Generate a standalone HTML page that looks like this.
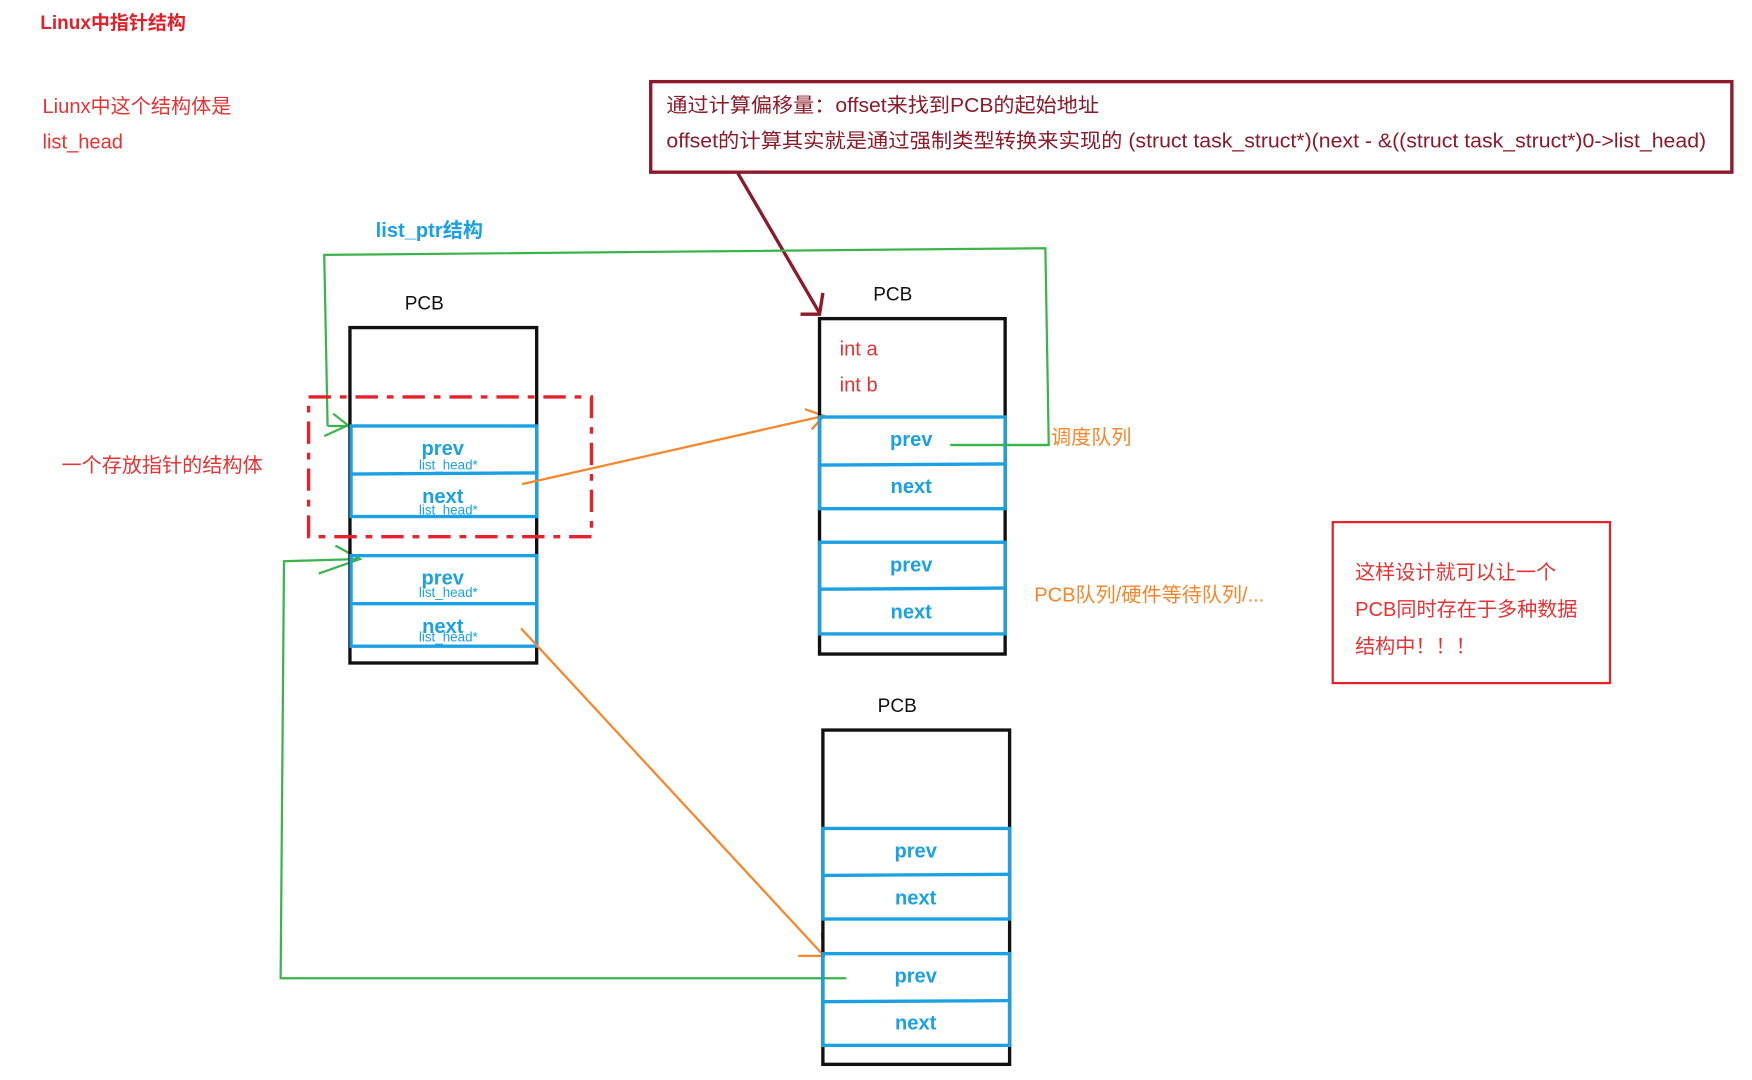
<!DOCTYPE html>
<html><head><meta charset="utf-8"><style>
html,body{margin:0;padding:0;background:#fff;width:1752px;height:1080px;overflow:hidden}
svg{display:block}
text{font-family:"Liberation Sans","Noto Sans CJK SC",sans-serif}
</style></head><body>
<svg width="1752" height="1080" viewBox="0 0 1567 966" preserveAspectRatio="none">
<text x="36" y="26" font-size="17" font-weight="bold" fill="#e0202a">Linux中指针结构</text>
<text x="38" y="101" font-size="18" fill="#e53333">Liunx中这个结构体是</text>
<text x="38" y="133" font-size="18" fill="#e53333">list_head</text>
<rect x="582" y="73" width="967" height="81" fill="none" stroke="#8b1a2a" stroke-width="3"/>
<text x="596" y="100" font-size="18" fill="#8b1a2a" textLength="387" lengthAdjust="spacingAndGlyphs">通过计算偏移量：offset来找到PCB的起始地址</text>
<text x="596" y="132" font-size="18" fill="#8b1a2a" textLength="930" lengthAdjust="spacingAndGlyphs">offset的计算其实就是通过强制类型转换来实现的 (struct task_struct*)(next - &amp;((struct task_struct*)0-&gt;list_head)</text>
<path d="M660 155 L733 280 M716 281 L733 281 L736 262" fill="none" stroke="#8b1a2a" stroke-width="3"/>
<text x="336" y="212" font-size="18" font-weight="bold" fill="#1ba1e2">list_ptr结构</text>
<path d="M293 381 L290 228 L935 222 L938 398 L850 398" fill="none" stroke="#3cb44b" stroke-width="2"/>
<path d="M293 381 L313 381 M298 370 L312 381 M290 390 L312 380" fill="none" stroke="#3cb44b" stroke-width="2"/>
<path d="M757 875 L251 875 L254 502 L322 500 M300 488 L322 500 L285 513" fill="none" stroke="#3cb44b" stroke-width="2"/>
<text x="362" y="277" font-size="17" fill="#111">PCB</text>
<rect x="313" y="293" width="167" height="300" fill="none" stroke="#111" stroke-width="3"/>
<g fill="none" stroke="#1ba1e2" stroke-width="3">
<rect x="314" y="381" width="166" height="81"/><line x1="314" y1="424" x2="480" y2="423"/>
<rect x="314" y="497" width="166" height="81"/><line x1="314" y1="540" x2="480" y2="540"/>
</g>
<g font-weight="bold" font-size="18" fill="#1ba1e2" text-anchor="middle">
<text x="396" y="407">prev</text><text x="396" y="450">next</text>
<text x="396" y="523">prev</text><text x="396" y="566">next</text>
</g>
<g font-size="12" fill="#1ba1e2" text-anchor="middle">
<text x="401" y="420">list_head*</text><text x="401" y="460">list_head*</text>
<text x="401" y="534">list_head*</text><text x="401" y="574">list_head*</text>
</g>
<rect x="276" y="355" width="253" height="125" fill="none" stroke="#e8202a" stroke-width="3" stroke-dasharray="20,8,6,8"/>
<text x="55" y="422" font-size="18" fill="#e53333">一个存放指针的结构体</text>
<path d="M467 433 L737 372 M720 366 L737 372 L726 384" fill="none" stroke="#f7852a" stroke-width="2"/>
<path d="M466 562 L737 855 M714 855 L737 855 L735 834" fill="none" stroke="#f7852a" stroke-width="2"/>
<text x="781" y="269" font-size="17" fill="#111">PCB</text>
<rect x="733" y="285" width="166" height="300" fill="none" stroke="#111" stroke-width="3"/>
<text x="751" y="318" font-size="18" fill="#e53333">int a</text>
<text x="751" y="350" font-size="18" fill="#e53333">int b</text>
<g fill="none" stroke="#1ba1e2" stroke-width="3">
<rect x="733" y="373" width="166" height="82"/><line x1="733" y1="416" x2="899" y2="415"/>
<rect x="733" y="485" width="166" height="82"/><line x1="733" y1="527" x2="899" y2="526"/>
</g>
<g font-weight="bold" font-size="18" fill="#1ba1e2" text-anchor="middle">
<text x="815" y="399">prev</text><text x="815" y="441">next</text>
<text x="815" y="511">prev</text><text x="815" y="553">next</text>
</g>
<path d="M850 398 L938 398" stroke="#3cb44b" stroke-width="2"/>
<text x="940" y="397" font-size="18" fill="#f7852a">调度队列</text>
<text x="925" y="538" font-size="18" fill="#f7852a">PCB队列/硬件等待队列/...</text>
<rect x="1192" y="467" width="248" height="144" fill="none" stroke="#e8202a" stroke-width="2"/>
<text x="1212" y="518" font-size="18" fill="#e53333">这样设计就可以让一个</text>
<text x="1212" y="551" font-size="18" fill="#e53333">PCB同时存在于多种数据</text>
<text x="1212" y="584" font-size="18" fill="#e53333">结构中！！！</text>
<text x="785" y="637" font-size="17" fill="#111">PCB</text>
<rect x="736" y="653" width="167" height="299" fill="none" stroke="#111" stroke-width="3"/>
<g fill="none" stroke="#1ba1e2" stroke-width="3">
<rect x="736" y="741" width="167" height="81"/><line x1="736" y1="783" x2="903" y2="782"/>
<rect x="736" y="853" width="167" height="82"/><line x1="736" y1="896" x2="903" y2="895"/>
</g>
<g font-weight="bold" font-size="18" fill="#1ba1e2" text-anchor="middle">
<text x="819" y="767">prev</text><text x="819" y="809">next</text>
<text x="819" y="879">prev</text><text x="819" y="921">next</text>
</g>
</svg>
</body></html>
